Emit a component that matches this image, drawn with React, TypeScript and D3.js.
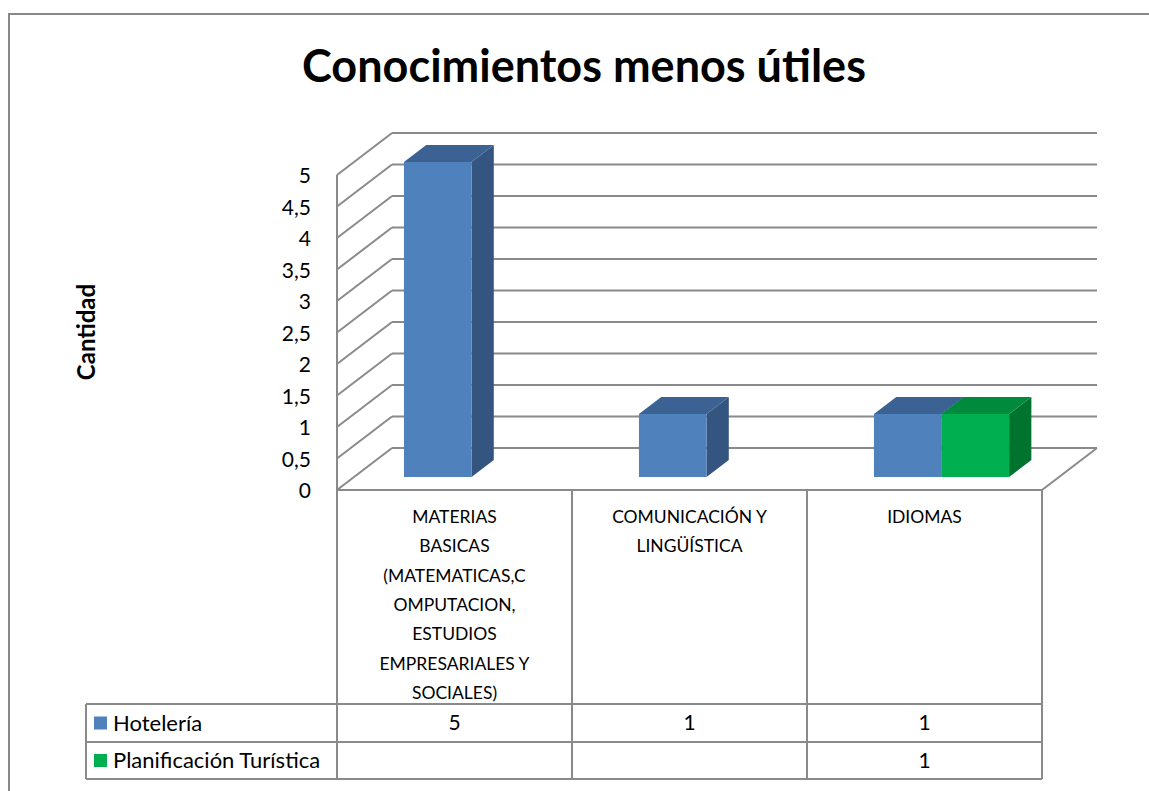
import React from "react";
import * as d3 from "d3";

const categories = ["MATERIAS BASICAS", "COMUNICACIÓN Y LINGÜÍSTICA", "IDIOMAS"];
const categoryLines = [
  ["MATERIAS", "BASICAS", "(MATEMATICAS,C", "OMPUTACION,", "ESTUDIOS", "EMPRESARIALES Y", "SOCIALES)"],
  ["COMUNICACIÓN Y", "LINGÜÍSTICA"],
  ["IDIOMAS"],
];
const seriesNames = ["Hotelería", "Planificación Turística"];
const hoteleria: (number | null)[] = [5, 1, 1];
const planificacion: (number | null)[] = [null, null, 1];
const yTicks = [0, 0.5, 1, 1.5, 2, 2.5, 3, 3.5, 4, 4.5, 5];
const title = "Conocimientos menos útiles";
const yTitle = "Cantidad";

const FRONT = ["#4F81BD", "#00B050"];
const TOP = ["#3C6293", "#008A3E"];
const SIDE = ["#34557F", "#00732F"];
const GRID = "#8a8a8a";
const FONT = "Lato, 'Open Sans', sans-serif";

export default function App() {
  const W = 1149, H = 791;
  const x0 = 337, x1 = 1042;
  const floorY = 490;
  const depthDX = 55, depthDY = 42;
  const y = d3.scaleLinear().domain([0, 5]).range([floorY, floorY - 315]);
  const xc = d3.scaleBand<string>().domain(categories).range([x0, x1]).padding(0);
  const bw = xc.bandwidth();
  const groupW = bw * 0.575;
  const xs = d3.scaleBand<string>().domain(seriesNames).range([(bw - groupW) / 2, (bw + groupW) / 2]);
  const zF = 13 / 42, zB = 30 / 42;
  const P = (px: number, v: number, z: number): [number, number] => [px + depthDX * z, y(v) - depthDY * z];
  const pts = (a: [number, number][]) => a.map((p) => p.join(",")).join(" ");

  const series = [hoteleria, planificacion];
  const bars: React.ReactNode[] = [];
  categories.forEach((c, ci) => {
    series.forEach((vals, si) => {
      const v = vals[ci];
      if (v == null) return;
      const l = (xc(c) as number) + (xs(seriesNames[si]) as number);
      const r = l + xs.bandwidth();
      const front = [P(l, 0, zF), P(r, 0, zF), P(r, v, zF), P(l, v, zF)];
      const side = [P(r, 0, zF), P(r, 0, zB), P(r, v, zB), P(r, v, zF)];
      const top = [P(l, v, zF), P(r, v, zF), P(r, v, zB), P(l, v, zB)];
      bars.push(
        <g key={`${ci}-${si}`}>
          <polygon points={pts(side)} fill={SIDE[si]} />
          <polygon points={pts(top)} fill={TOP[si]} />
          <polygon points={pts(front)} fill={FRONT[si]} />
        </g>
      );
    });
  });

  const rowTop = 704, rowMid = 742, rowBot = 779;
  const legendL = 86;
  const tableVals = [hoteleria, planificacion];

  return (
    <svg width={W} height={H} style={{ position: "absolute", left: 0, top: 0, background: "#fff" }}>
      <rect x={9} y={14} width={1160} height={800} fill="#fff" stroke="#888" strokeWidth={2} />
      <text x={584} y={82} textAnchor="middle" fontFamily={FONT} fontWeight="bold" fontSize={45} fill="#000">
        {title}
      </text>
      {yTicks.map((t) => {
        const a = P(x0, t, 1), b = P(x1, t, 1);
        const f = P(x0, t, 0);
        return (
          <g key={t}>
            <line x1={a[0]} y1={a[1]} x2={b[0]} y2={b[1]} stroke={GRID} strokeWidth={2} />
            <line x1={f[0]} y1={f[1]} x2={a[0]} y2={a[1]} stroke={GRID} strokeWidth={2} />
          </g>
        );
      })}
      <line x1={P(x1, 0, 1)[0]} y1={P(x1, 0, 1)[1]} x2={x1} y2={floorY} stroke={GRID} strokeWidth={2} />
      <line x1={x0} y1={y(5)} x2={x0} y2={rowBot} stroke={GRID} strokeWidth={2} />
      <line x1={x0} y1={floorY} x2={x1} y2={floorY} stroke={GRID} strokeWidth={2} />
      {bars}
      {yTicks.map((t) => (
        <text key={t} x={311} y={y(t) + 8} textAnchor="end" fontFamily={FONT} fontSize={21} fill="#000">
          {String(t).replace(".", ",")}
        </text>
      ))}
      <text transform={`translate(95,332) rotate(-90)`} textAnchor="middle" fontFamily={FONT} fontWeight="bold" fontSize={24} fill="#000">
        {yTitle}
      </text>
      {categories.map((c, ci) => {
        const cx = (xc(c) as number) + bw / 2;
        return (
          <g key={c}>
            <line x1={(xc(c) as number) + bw} y1={floorY} x2={(xc(c) as number) + bw} y2={rowBot} stroke={GRID} strokeWidth={2} />
            {categoryLines[ci].map((ln, li) => (
              <text key={li} x={cx} y={523 + li * 29.3} textAnchor="middle" fontFamily={FONT} fontSize={17.5} fill="#000">
                {ln}
              </text>
            ))}
            {tableVals.map((vals, si) =>
              vals[ci] == null ? null : (
                <text key={si} x={cx} y={(si === 0 ? (rowTop + rowMid) / 2 : (rowMid + rowBot) / 2) + 7} textAnchor="middle" fontFamily={FONT} fontSize={21} fill="#000">
                  {vals[ci]}
                </text>
              )
            )}
          </g>
        );
      })}
      {[rowTop, rowMid, rowBot].map((ry) => (
        <line key={ry} x1={legendL} y1={ry} x2={x1} y2={ry} stroke={GRID} strokeWidth={2} />
      ))}
      <line x1={legendL} y1={rowTop} x2={legendL} y2={rowBot} stroke={GRID} strokeWidth={2} />
      {seriesNames.map((s, si) => {
        const cy = si === 0 ? (rowTop + rowMid) / 2 : (rowMid + rowBot) / 2;
        return (
          <g key={s}>
            <rect x={94} y={cy - 6.5} width={13} height={13} fill={FRONT[si]} />
            <text x={113} y={cy + 7.5} fontFamily={FONT} fontSize={22} fill="#000">
              {s}
            </text>
          </g>
        );
      })}
    </svg>
  );
}
